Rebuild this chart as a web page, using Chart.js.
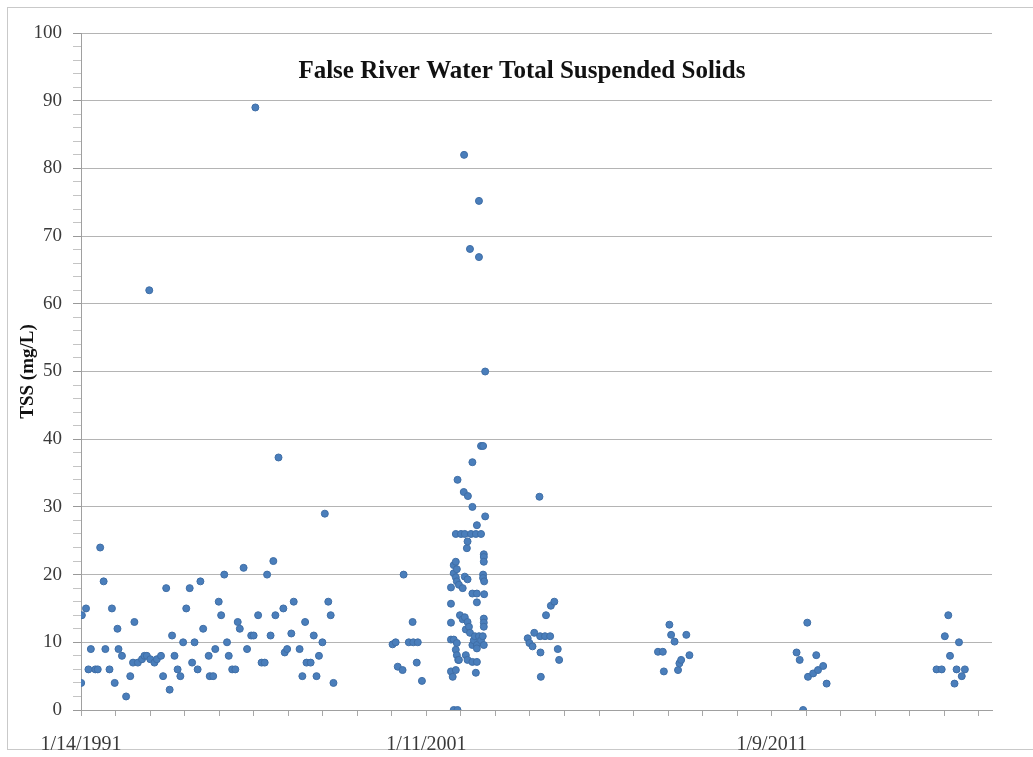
<!DOCTYPE html>
<html>
<head>
<meta charset="utf-8">
<title>False River Water Total Suspended Solids</title>
<script src="https://cdn.jsdelivr.net/npm/chart.js@4.4.1/dist/chart.umd.min.js"></script>
<style>
  html, body { margin: 0; padding: 0; background: #fff; }
  #wrap { position: relative; width: 1033px; height: 757px; overflow: hidden; }
  #frame { position: absolute; left: 7px; top: 7px; width: 1100px; height: 741px; border: 1px solid #c9c9c9; }
  #tssChart { position: absolute; left: 0; top: 0; }
</style>
</head>
<body>
<div id="wrap">
  <div id="frame"></div>
  <canvas id="tssChart" width="1033" height="757"></canvas>
</div>
<script>
const chartTitle = 'False River Water Total Suspended Solids';
const yTitle = 'TSS (mg/L)';

// sample dates as decimal years
const sampleYears = [
  1991.04, 1991.06, 1991.18, 1991.25, 1991.32, 1991.45, 1991.52, 1991.59, 1991.69, 1991.74, 1991.86, 1991.93,
  1992.01, 1992.09, 1992.12, 1992.22, 1992.34, 1992.46, 1992.54, 1992.58, 1992.68, 1992.80, 1992.87, 1992.94,
  1993.01, 1993.04, 1993.16, 1993.23, 1993.35, 1993.41, 1993.50, 1993.60, 1993.67, 1993.74, 1993.83, 1993.91, 1993.99,
  1994.08, 1994.18, 1994.25, 1994.32, 1994.41, 1994.49, 1994.57, 1994.73, 1994.76, 1994.86, 1994.92,
  1995.02, 1995.09, 1995.18, 1995.26, 1995.31, 1995.41, 1995.50, 1995.57, 1995.63, 1995.74, 1995.84, 1995.96,
  1996.03, 1996.08, 1996.16, 1996.26, 1996.35, 1996.42, 1996.52, 1996.60, 1996.66, 1996.75, 1996.89, 1996.93,
  1997.00, 1997.12, 1997.19, 1997.36, 1997.44, 1997.52, 1997.56, 1997.68, 1997.77, 1997.85, 1997.92,
  1998.02, 1998.09, 1998.19, 1998.26, 1998.34,
  2000.05, 2000.14, 2000.20, 2000.34, 2000.37, 2000.52, 2000.63, 2000.65, 2000.75, 2000.78, 2000.90,
  2001.74, 2001.74, 2001.74, 2001.74, 2001.74, 2001.79, 2001.82, 2001.82, 2001.82, 2001.82,
  2001.88, 2001.88, 2001.88, 2001.88, 2001.88, 2001.91, 2001.91, 2001.91, 2001.91, 2001.93, 2001.93,
  2001.95, 2001.97, 2001.97, 2002.00, 2002.03, 2002.08, 2002.08, 2002.11, 2002.12,
  2002.14, 2002.14, 2002.14, 2002.17, 2002.17, 2002.20, 2002.22, 2002.22, 2002.22, 2002.22,
  2002.23, 2002.26, 2002.29, 2002.29, 2002.32, 2002.36, 2002.36, 2002.36, 2002.36, 2002.36,
  2002.40, 2002.43, 2002.46, 2002.46, 2002.49, 2002.49, 2002.49, 2002.49, 2002.49, 2002.49,
  2002.55, 2002.55, 2002.55, 2002.61, 2002.61, 2002.61, 2002.66, 2002.67, 2002.67, 2002.67,
  2002.69, 2002.69, 2002.69, 2002.69, 2002.69, 2002.69, 2002.69, 2002.70, 2002.70, 2002.73, 2002.73,
  2003.96, 2004.01, 2004.10, 2004.15, 2004.30, 2004.32, 2004.33, 2004.34, 2004.46, 2004.49, 2004.61, 2004.63,
  2004.73, 2004.83, 2004.87,
  2007.73, 2007.87, 2007.90, 2008.06, 2008.11, 2008.21, 2008.31, 2008.35, 2008.40, 2008.55, 2008.64,
  2011.74, 2011.83, 2011.93, 2012.05, 2012.07, 2012.22, 2012.31, 2012.36, 2012.51, 2012.61,
  2015.79, 2015.94, 2016.03, 2016.13, 2016.18, 2016.31, 2016.37, 2016.44, 2016.52, 2016.61
];

// TSS in mg/L, same order as sampleYears
const tssValues = [
  4, 14, 15, 6, 9, 6, 6, 24, 19, 9, 6, 15,
  4, 12, 9, 8, 2, 5, 7, 13, 7, 7.5, 8, 8,
  62, 7.5, 7, 7.5, 8, 5, 18, 3, 11, 8, 6, 5, 10,
  15, 18, 7, 10, 6, 19, 12, 8, 5, 5, 9,
  16, 14, 20, 10, 8, 6, 6, 13, 12, 21, 9, 11,
  11, 89, 14, 7, 7, 20, 11, 22, 14, 37.3, 15, 8.5,
  9, 11.3, 16, 9, 5, 13, 7, 7, 11, 5, 8,
  10, 29, 16, 14, 4,
  9.7, 10, 6.4, 5.9, 20, 10, 13, 10, 7, 10, 4.3,
  18.1, 15.7, 12.9, 10.4, 5.7, 4.9, 21.4, 20.2, 10.4, 0,
  26, 21.9, 19.6, 8.9, 5.9, 20.8, 19, 9.9, 8.1, 34, 0,
  7.4, 18.5, 7.4, 14, 26, 18, 13.4, 32.2, 82,
  26, 19.7, 13.7, 11.9, 8.1, 23.9, 24.9, 19.3, 13, 7.4,
  31.6, 12.3, 68.1, 11.4, 26, 30, 36.6, 17.2, 9.6, 7.1,
  10.3, 10.9, 26, 5.5, 27.3, 17.2, 15.9, 9.6, 9.1, 7.1,
  75.2, 66.9, 10.9, 26, 10.3, 39, 10.9, 20, 19.5, 39,
  23, 22.6, 21.9, 13.5, 12.9, 12.3, 9.6, 19, 17.1, 50, 28.6,
  10.6, 9.9, 9.4, 11.4, 31.5, 10.9, 8.5, 4.9, 10.9, 14, 10.9, 15.4,
  16, 9, 7.4,
  8.6, 8.6, 5.7, 12.6, 11.1, 10.1, 5.9, 6.9, 7.4, 11.1, 8.1,
  8.5, 7.4, 0, 12.9, 4.9, 5.4, 8.1, 5.9, 6.5, 3.9,
  6, 6, 10.9, 14, 8, 3.9, 6, 10, 5, 6
];

// x axis in days since 1970-01-01
const axisStart = '1991-01-14';
const axisEnd = '2017-05-25';
const minorStepDays = 365;
const majorEvery = 10;

const toDays = (iso) => Date.parse(iso + 'T00:00:00Z') / 864e5;
const yearToDays = (yr) => (yr - 1970) * 365.25;
const xMin = toDays(axisStart);
const xMax = toDays(axisEnd);

const xTickValues = [];
for (let v = xMin; v <= xMax; v += minorStepDays) xTickValues.push(v);

const formatDate = (days) => {
  const d = new Date(days * 864e5);
  return `${d.getUTCMonth() + 1}/${d.getUTCDate()}/${d.getUTCFullYear()}`;
};

const points = sampleYears.map((yr, i) => ({ x: yearToDays(yr), y: tssValues[i] }));

const serif = '"Liberation Serif", "Times New Roman", serif';

const innerTitle = {
  id: 'innerTitle',
  afterDraw(chart) {
    const { ctx, chartArea } = chart;
    ctx.save();
    ctx.font = `bold 25px ${serif}`;
    ctx.fillStyle = '#111';
    ctx.textAlign = 'center';
    ctx.textBaseline = 'middle';
    ctx.fillText(chartTitle, chartArea.left + chartArea.width * 0.484, chartArea.top + 39);
    ctx.restore();
  }
};

const ctx = document.getElementById('tssChart').getContext('2d');
const tssChart = new Chart(ctx, {
  type: 'scatter',
  data: {
    datasets: [{
      label: 'TSS',
      data: points,
      backgroundColor: '#4a7ebb',
      borderColor: '#3f6ea6',
      borderWidth: 1,
      pointRadius: 3.5,
      pointHoverRadius: 3.5
    }]
  },
  plugins: [innerTitle],
  options: {
    responsive: false,
    animation: false,
    layout: { padding: { left: 0, top: 33, right: 41, bottom: 0 } },
    plugins: {
      legend: { display: false },
      tooltip: { enabled: false }
    },
    scales: {
      x: {
        type: 'linear',
        min: xMin,
        max: xMax,
        afterBuildTicks: (scale) => {
          scale.ticks = xTickValues.map(v => ({ value: v }));
        },
        afterFit: (scale) => { scale.height = 47; },
        ticks: {
          autoSkip: false,
          maxRotation: 0,
          padding: 17,
          color: '#3a3a3a',
          font: { family: serif, size: 20 },
          callback: (value, index) => index % majorEvery === 0 ? formatDate(value) : ''
        },
        grid: {
          drawOnChartArea: false,
          tickLength: 6,
          tickColor: '#a8a8a8'
        },
        border: { color: '#a0a0a0' }
      },
      y: {
        min: 0,
        max: 100,
        afterFit: (scale) => { scale.width = 81; },
        ticks: {
          stepSize: 2,
          autoSkip: false,
          padding: 11,
          color: '#3a3a3a',
          font: { family: serif, size: 19 },
          callback: (value) => value % 10 === 0 ? value : ''
        },
        grid: {
          color: (c) => c.tick && c.tick.value % 10 === 0 ? '#b4b4b4' : 'rgba(0,0,0,0)',
          tickColor: (c) => c.tick && c.tick.value % 10 === 0 ? '#999' : '#c4c4c4',
          tickLength: 8
        },
        border: { color: '#a0a0a0' },
        title: {
          display: true,
          text: yTitle,
          color: '#111',
          font: { family: serif, size: 19, weight: 'bold' },
          padding: { top: 17, bottom: 0 }
        }
      }
    }
  }
});
</script>
</body>
</html>
